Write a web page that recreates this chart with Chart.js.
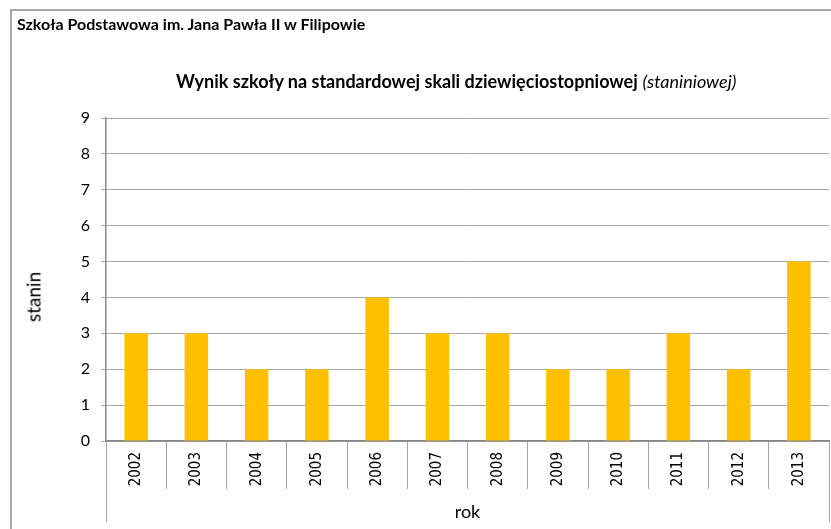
<!DOCTYPE html>
<html>
<head>
<meta charset="utf-8">
<script src="https://cdn.jsdelivr.net/npm/chart.js@4/dist/chart.umd.min.js"></script>
<style>
  html, body { margin: 0; padding: 0; background: #fff; overflow: hidden; }
  body { width: 831px; height: 529px; position: relative; font-family: Lato, "Open Sans", sans-serif; color: #000; }
  #frame { position: absolute; left: 10px; top: 9px; width: 900px; height: 600px; border-left: 2px solid #a6a6a6; border-top: 2px solid #a6a6a6; }
  #school { position: absolute; left: 17px; top: 14px; font-size: 16px; font-weight: bold; white-space: nowrap; }
  #title { position: absolute; left: 176px; top: 70px; font-size: 18px; white-space: nowrap; }
  #title b { font-weight: bold; }
  #yTitle { position: absolute; left: 33px; top: 297px; font-size: 19px; white-space: nowrap; transform: translate(-50%, -50%) rotate(-90deg); }
  #chart { position: absolute; left: 0; top: 0; }
</style>
</head>
<body>
<div id="frame"></div>
<canvas id="chart" width="831" height="529"></canvas>
<div id="school">Szkoła Podstawowa im. Jana Pawła II w Filipowie</div>
<div id="title"><b>Wynik szkoły na standardowej skali dziewięciostopniowej</b> <i>(staniniowej)</i></div>
<div id="yTitle">stanin</div>
<script>
// Data
const years = ['2002', '2003', '2004', '2005', '2006', '2007', '2008', '2009', '2010', '2011', '2012', '2013'];
const stanin = [3, 3, 2, 2, 4, 3, 3, 2, 2, 3, 2, 5];
const yMin = 0;
const yMax = 9;

const gridColor = '#a6a6a6';
const axisColor = '#868686';

// longer lines at both ends of the category axis
const edgeLines = {
    id: 'edgeLines',
    afterDraw(chart) {
        const { ctx, chartArea } = chart;
        ctx.save();
        ctx.strokeStyle = gridColor;
        ctx.lineWidth = 1;
        [chartArea.left, chartArea.right].forEach(x => {
            ctx.beginPath();
            ctx.moveTo(Math.round(x) + 0.5, chartArea.bottom);
            ctx.lineTo(Math.round(x) + 0.5, 522);
            ctx.stroke();
        });
        ctx.restore();
    }
};

new Chart(document.getElementById('chart').getContext('2d'), {
    type: 'bar',
    data: {
        labels: years,
        datasets: [{
            label: 'stanin',
            data: stanin,
            backgroundColor: '#ffc000',
            categoryPercentage: 1,
            barPercentage: 0.39
        }]
    },
    options: {
        responsive: false,
        animation: false,
        layout: { padding: { top: 118, right: 2, left: 0, bottom: 0 } },
        plugins: {
            legend: { display: false },
            tooltip: { enabled: false }
        },
        scales: {
            x: {
                offset: true,
                grid: {
                    offset: true,
                    drawOnChartArea: false,
                    color: gridColor,
                    tickLength: 48
                },
                border: { color: axisColor, width: 1.5 },
                ticks: {
                    autoSkip: false,
                    minRotation: 90,
                    maxRotation: 90,
                    padding: -37,
                    color: '#000',
                    font: { family: '"DejaVu Sans Condensed", "DejaVu Sans", sans-serif', size: 15 }
                },
                title: {
                    display: true,
                    text: 'rok',
                    color: '#000',
                    font: { family: 'Lato, sans-serif', size: 18 },
                    padding: { top: 0, bottom: 6 }
                },
                afterFit(scale) { scale.height = 88; }
            },
            y: {
                min: yMin,
                max: yMax,
                grid: { color: gridColor, tickLength: 5 },
                border: { color: axisColor, width: 1.5 },
                ticks: {
                    stepSize: 1,
                    padding: 11,
                    color: '#000',
                    font: { family: 'Lato, sans-serif', size: 16 }
                },
                afterFit(scale) { scale.width = 106; }
            }
        }
    },
    plugins: [edgeLines]
});
</script>
</body>
</html>
